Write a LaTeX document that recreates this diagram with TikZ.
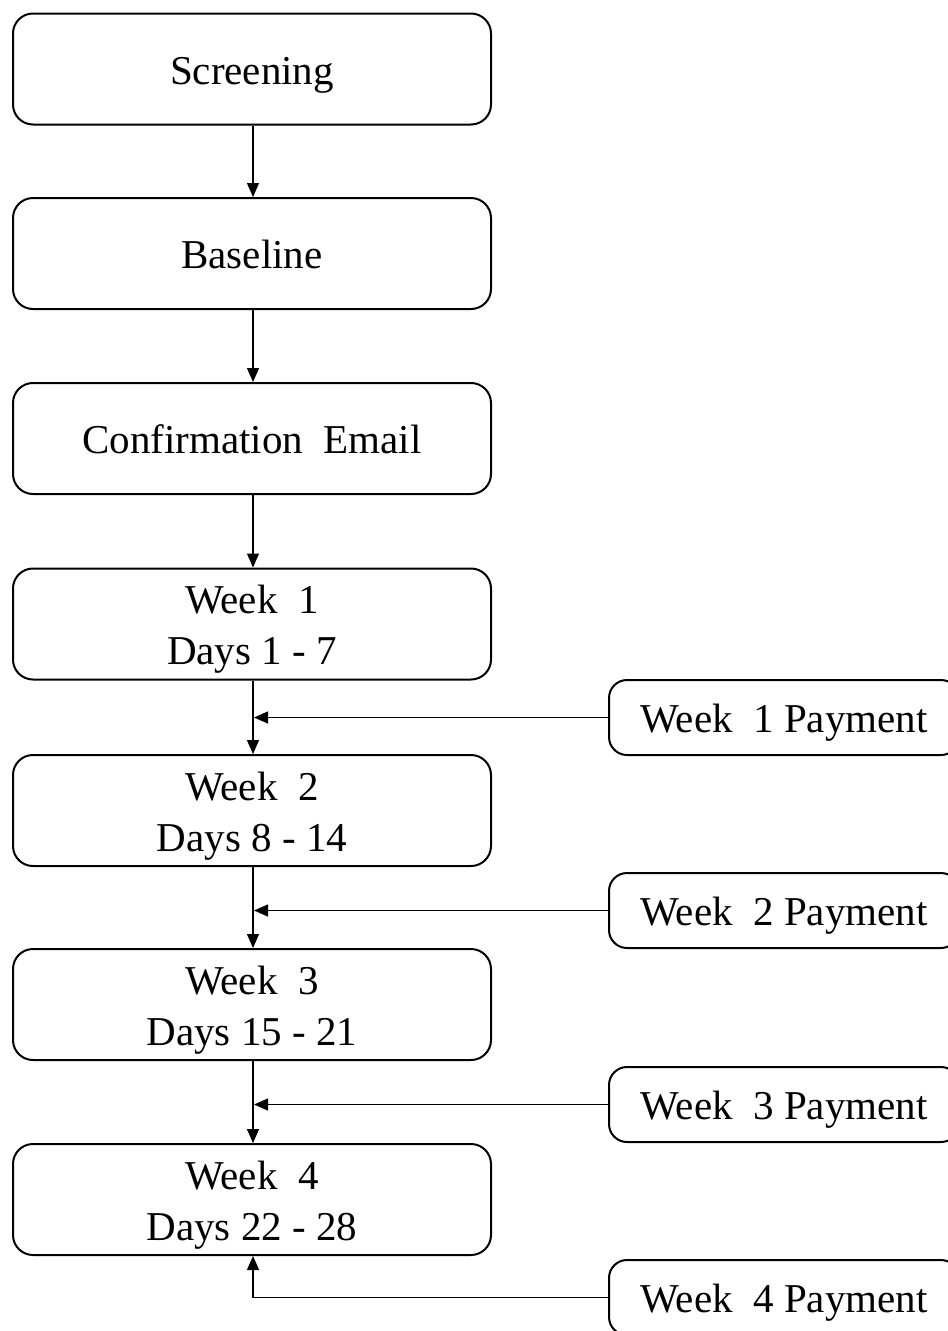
\documentclass[tikz,border=0pt]{standalone}
\usepackage{fontspec}
\setmainfont{Liberation Serif}
\usetikzlibrary{arrows.meta}
\newcommand{\boxtxt}[1]{\raisebox{-5pt}[\height][\depth]{\begin{tabular}{@{}c@{}}#1\end{tabular}}}
\begin{document}
\begin{tikzpicture}[x=1pt,y=-1pt,
  mainbox/.style={draw, line width=2pt, rounded corners=20pt, minimum width=478pt, minimum height=111pt, inner sep=0pt, font=\fontsize{41}{51}\selectfont},
  paybox/.style={draw, line width=2pt, rounded corners=18pt, minimum width=350pt, minimum height=75pt, inner sep=0pt, font=\fontsize{41}{51}\selectfont},
  arr/.style={line width=1.2pt, -{Triangle[length=14pt,width=12pt]}}]
\useasboundingbox (0,0) rectangle (948,1331);
\clip (0,0) rectangle (948,1331);
\node[mainbox] (s) at (252,69) {\boxtxt{Screening}};
\node[mainbox] (b) at (252,253.5) {\boxtxt{Baseline}};
\node[mainbox] (c) at (252,438.5) {\boxtxt{Confirmation\ \ Email}};
\node[mainbox] (w1) at (252,624) {\boxtxt{Week\ \ 1\\Days 1 - 7}};
\node[mainbox] (w2) at (252,810.5) {\boxtxt{Week\ \ 2\\Days 8 - 14}};
\node[mainbox] (w3) at (252,1004.5) {\boxtxt{Week\ \ 3\\Days 15 - 21}};
\node[mainbox] (w4) at (252,1199.5) {\boxtxt{Week\ \ 4\\Days 22 - 28}};
\node[paybox] (p1) at (784,717.5) {\boxtxt{Week\ \ 1\ Payment}};
\node[paybox] (p2) at (784,910.5) {\boxtxt{Week\ \ 2\ Payment}};
\node[paybox] (p3) at (784,1104.5) {\boxtxt{Week\ \ 3\ Payment}};
\node[paybox] (p4) at (784,1297.5) {\boxtxt{Week\ \ 4\ Payment}};
\draw[arr] ([xshift=1pt]s.south) -- ([xshift=1pt]b.north);
\draw[arr] ([xshift=1pt]b.south) -- ([xshift=1pt]c.north);
\draw[arr] ([xshift=1pt]c.south) -- ([xshift=1pt]w1.north);
\draw[arr] ([xshift=1pt]w1.south) -- ([xshift=1pt]w2.north);
\draw[arr] ([xshift=1pt]w2.south) -- ([xshift=1pt]w3.north);
\draw[arr] ([xshift=1pt]w3.south) -- ([xshift=1pt]w4.north);
\draw[arr] (p1.west) -- ([xshift=2pt]w1.south |- p1.west);
\draw[arr] (p2.west) -- ([xshift=2pt]w2.south |- p2.west);
\draw[arr] (p3.west) -- ([xshift=2pt]w3.south |- p3.west);
\draw[arr] (p4.west) -- ([xshift=1pt]w4.south |- p4.west) -- ([xshift=1pt]w4.south);
\end{tikzpicture}
\end{document}
